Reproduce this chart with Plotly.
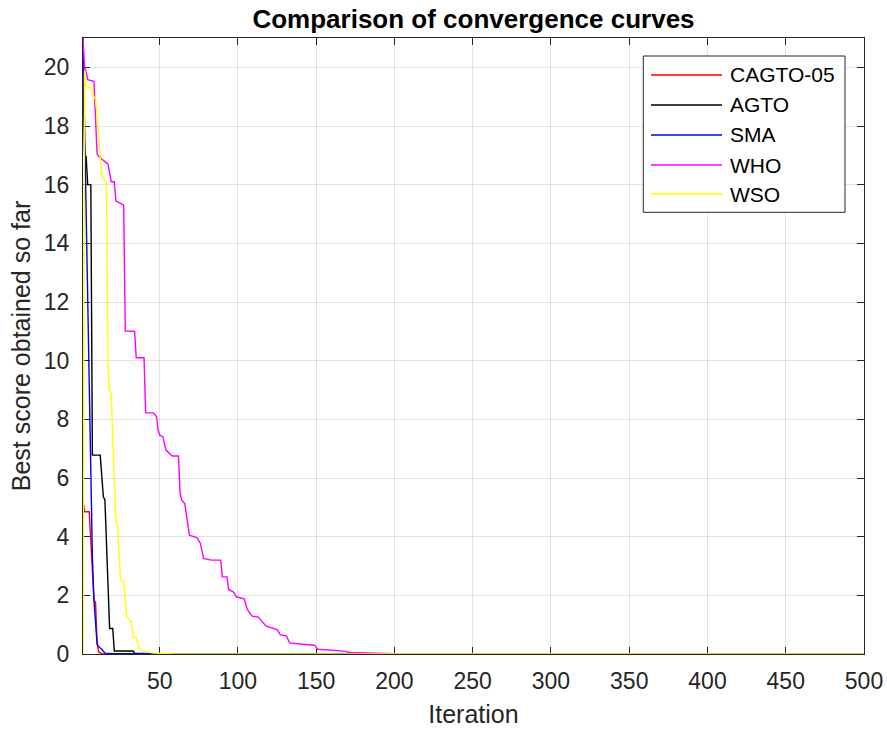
import plotly.graph_objects as go

# Convergence histories (iteration, best score) for each optimiser
cagto_iter = [1, 2, 5, 8, 9, 10, 11, 13, 20, 500]
cagto_val = [5.25, 4.85, 4.85, 1.83, 1.77, 0.36, 0.07, 0.01, 0.002, 0.0]

agto_iter = [1, 2, 3, 4, 6, 7, 12, 14, 15, 18, 20, 21, 33, 34, 50, 500]
agto_val = [19.9, 17.0, 16.96, 16.0, 16.0, 6.78, 6.78, 5.36, 5.25, 0.87, 0.87, 0.10, 0.10, 0.03, 0.005, 0.0]

sma_iter = [1, 2, 3, 4, 5, 6, 7, 8, 9, 10, 11, 13, 15, 20, 500]
sma_val = [21.0, 17.8, 14.6, 12.3, 9.0, 5.3, 3.3, 1.83, 0.9, 0.35, 0.25, 0.16, 0.03, 0.01, 0.0]

who_iter = [1, 2, 3, 4, 8, 10, 11, 15, 17, 19, 21, 22, 25, 27, 28, 34, 35, 40, 41, 46, 48, 49,
            50, 52, 54, 58, 62, 63, 64, 66, 69, 74, 76, 78, 83, 89, 90, 93, 94, 97, 99, 104,
            106, 109, 113, 116, 118, 125, 127, 131, 133, 141, 149, 151, 168, 171, 185, 200, 500]
who_val = [21.0, 20.0, 19.85, 19.58, 19.52, 17.05, 16.96, 16.8, 16.7, 16.1, 16.1, 15.45, 15.37,
           15.3, 11.01, 11.0, 10.1, 10.1, 8.22, 8.22, 8.09, 7.63, 7.46, 7.41, 6.95, 6.75, 6.75,
           5.5, 5.25, 5.13, 4.05, 3.96, 3.77, 3.26, 3.2, 3.2, 2.63, 2.63, 2.2, 2.12, 1.95, 1.88,
           1.52, 1.29, 1.26, 1.09, 0.95, 0.83, 0.66, 0.61, 0.38, 0.33, 0.30, 0.16, 0.10, 0.05,
           0.03, 0.01, 0.0]

wso_iter = [1, 2, 3, 6, 8, 9, 10, 12, 13, 14, 16, 17, 18, 19, 22, 23, 25, 27, 28, 29, 32, 33,
            35, 37, 39, 46, 60, 500]
wso_val = [0.0, 19.9, 19.35, 19.3, 19.0, 18.93, 18.38, 16.96, 16.28, 16.22, 16.05, 9.8, 8.94,
           8.89, 4.56, 4.45, 2.52, 2.49, 1.95, 1.26, 1.09, 0.58, 0.56, 0.18, 0.10, 0.03, 0.005,
           0.0]

series = [
    ("CAGTO-05", cagto_iter, cagto_val, "#FF0000"),
    ("AGTO", agto_iter, agto_val, "#000000"),
    ("SMA", sma_iter, sma_val, "#0000FF"),
    ("WHO", who_iter, who_val, "#FF00FF"),
    ("WSO", wso_iter, wso_val, "#FFFF00"),
]

x_ticks = [50, 100, 150, 200, 250, 300, 350, 400, 450, 500]
y_ticks = [0, 2, 4, 6, 8, 10, 12, 14, 16, 18, 20]

W, H = 887, 731
L, R, T, B = 83, 864, 38, 654  # plot area edges in pixels

FONT = "Arial, Liberation Sans, Helvetica, sans-serif"
AX = "#262626"

fig = go.Figure()
for name, xs, ys, col in series:
    fig.add_trace(go.Scatter(x=xs, y=ys, mode="lines", name=name,
                             line=dict(color=col, width=1.4), showlegend=False))

fig.update_layout(
    width=W, height=H,
    margin=dict(l=L, r=W - R, t=T, b=H - B, pad=0, autoexpand=False),
    paper_bgcolor="white", plot_bgcolor="white",
    font=dict(family=FONT, color=AX),
    title=dict(text="Comparison of convergence curves", x=0.5, xref="paper",
               y=1 - 19 / H, yref="container", yanchor="middle",
               font=dict(size=26, family=FONT, color="#000000", weight="bold")),
)

axis_common = dict(
    showline=True, linecolor=AX, linewidth=1, mirror="ticks",
    ticks="inside", ticklen=7, tickcolor=AX, tickwidth=1.3,
    showgrid=True, gridcolor="rgba(38,38,38,0.13)", gridwidth=1,
    zeroline=False, automargin=False, layer="below traces",
    tickfont=dict(size=23, family=FONT, color=AX),
)
fig.update_xaxes(range=[1, 500], tickvals=x_ticks, ticktext=[str(v) for v in x_ticks],
                 title=dict(text="Iteration", font=dict(size=25, family=FONT, color=AX), standoff=12),
                 ticklabelstandoff=6, **axis_common)
fig.update_yaxes(range=[0, 21], tickvals=y_ticks, ticktext=[str(v) for v in y_ticks],
                 title=dict(text="Best score obtained so far", font=dict(size=25, family=FONT, color=AX), standoff=6),
                 ticklabelstandoff=8, **axis_common)

# Legend box drawn in paper coordinates
def px_x(p):
    return (p - L) / (R - L)

def px_y(p):
    return (B - p) / (B - T)

fig.add_shape(type="rect", xref="paper", yref="paper",
              x0=px_x(643.3), x1=px_x(845), y0=px_y(56), y1=px_y(212.3),
              line=dict(color=AX, width=1), fillcolor="white", layer="above")
legend_rows = [75, 105, 135, 165, 194]
for (name, _, _, col), yc in zip(series, legend_rows):
    fig.add_shape(type="line", xref="paper", yref="paper",
                  x0=px_x(651), x1=px_x(722), y0=px_y(yc), y1=px_y(yc),
                  line=dict(color=col, width=1.3), layer="above")
    fig.add_annotation(xref="paper", yref="paper", x=px_x(728), y=px_y(yc),
                       xanchor="left", yanchor="middle", text=name, showarrow=False,
                       font=dict(size=21, family=FONT, color="#000000"))

fig.write_html("out.html")
